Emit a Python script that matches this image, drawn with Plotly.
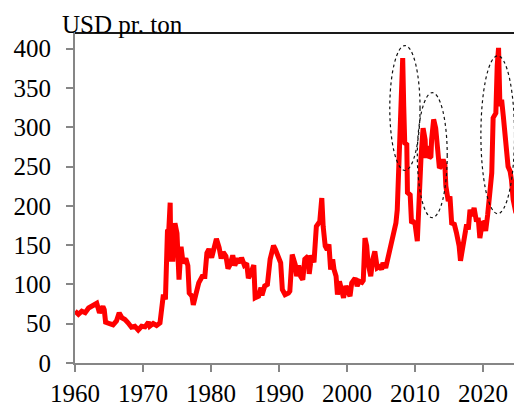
import plotly.graph_objects as go

years = [1960.0, 1960.5, 1961.0, 1961.5, 1962.0, 1962.4, 1962.8, 1963.2, 1963.6, 1964.1,
         1964.3, 1964.5, 1965.1, 1965.6, 1966.1, 1966.5, 1966.9, 1967.35, 1967.8, 1968.3,
         1968.8, 1969.3, 1969.8, 1970.3, 1970.8, 1971.0, 1971.5, 1972.0, 1972.5, 1972.8,
         1973.0, 1973.3, 1973.5, 1973.6, 1973.8, 1974.0, 1974.1, 1974.4, 1974.7, 1975.0,
         1975.3, 1975.6, 1975.9, 1976.3, 1976.6, 1976.8, 1977.2, 1977.4, 1977.75, 1978.2,
         1978.7, 1979.1, 1979.4, 1979.7, 1980.1, 1980.5, 1980.8, 1981.2, 1981.5, 1981.8,
         1982.2, 1982.5, 1982.8, 1983.2, 1983.5, 1983.9, 1984.3, 1984.5, 1984.9, 1985.25,
         1985.5, 1985.8, 1986.1, 1986.3, 1986.5, 1987.0, 1987.35, 1987.5, 1987.9, 1988.3,
         1988.7, 1989.2, 1989.5, 1989.9, 1990.25, 1990.5, 1990.9, 1991.4, 1991.6, 1991.95,
         1992.4, 1992.6, 1992.9, 1993.2, 1993.5, 1993.8, 1994.3, 1994.45, 1994.8, 1995.15,
         1995.5, 1996.0, 1996.3, 1996.5, 1996.8, 1997.1, 1997.35, 1997.6, 1997.9, 1998.1,
         1998.4, 1998.6, 1998.9, 1999.2, 1999.5, 1999.85, 2000.1, 2000.45, 2000.7, 2001.2,
         2001.5, 2001.8, 2002.2, 2002.4, 2002.65, 2002.9, 2003.1, 2003.5, 2003.8, 2004.1,
         2004.45, 2004.85, 2005.1, 2005.3, 2005.7, 2006.1, 2006.4, 2006.8, 2007.2, 2007.4,
         2007.55, 2007.7, 2007.85, 2008.0, 2008.2, 2008.35, 2008.5, 2008.8, 2008.9, 2009.3,
         2009.5, 2009.75, 2010.0, 2010.35, 2010.6, 2010.9, 2011.2, 2011.5, 2011.6, 2011.9,
         2012.1, 2012.35, 2012.45, 2012.75, 2013.05, 2013.35, 2013.6, 2013.9, 2014.15, 2014.4,
         2014.55, 2014.9, 2015.15, 2015.4, 2015.8, 2016.1, 2016.5, 2016.7, 2016.95, 2017.25,
         2017.6, 2017.85, 2018.1, 2018.4, 2018.7, 2019.05, 2019.3, 2019.55, 2019.9, 2020.2,
         2020.4, 2020.7, 2021.0, 2021.3, 2021.5, 2021.9, 2022.1, 2022.3, 2022.5, 2022.75,
         2023.0, 2023.35, 2023.7, 2024.0, 2024.2, 2024.45, 2024.7, 2024.85, 2024.95]

prices = [66, 62, 66, 64, 70, 72, 74, 76, 64, 72,
          68, 52, 50, 48.5, 53.5, 63.8, 57.5, 55.4, 51.2, 45.6,
          46.8, 42, 46.8, 46, 52, 47, 50.3, 47.8, 51, 72,
          87, 81, 119, 168, 170, 204, 132, 132, 178, 165,
          106, 148, 127, 133, 124, 89, 85, 74, 86.5, 102,
          110, 110, 140, 145, 134, 147, 158, 147, 133, 141,
          136, 120, 125, 137, 124, 133, 127.5, 134, 124.5, 127,
          108, 113, 122, 124.5, 83, 85, 96, 86, 98, 100,
          132, 149.5, 144, 136, 127.5, 93.5, 87, 89, 91.4, 138,
          125, 110.5, 124, 110, 106, 132, 136, 113.5, 137, 128,
          174, 180, 210, 174, 149, 144, 151, 119, 132, 119,
          110.5, 87, 104, 93.5, 83, 98, 91, 85, 102, 108,
          98, 104, 102.6, 105, 159, 149, 127.5, 110.5, 132, 142,
          121, 123, 119, 127.5, 121, 136, 149, 166, 178, 195,
          235, 280, 285, 373, 388, 327, 280, 278, 217, 214,
          178, 180, 178, 155, 225, 263, 299, 284, 261, 276,
          261, 263, 284, 310, 299, 267, 248, 251, 259, 252,
          225, 206, 212, 178, 176.5, 166, 149, 130, 144, 157,
          176.5, 170, 195, 187, 197.5, 180, 185, 159, 178, 179,
          168, 189, 225, 242, 312, 318, 378, 401, 327, 335,
          314, 280, 250, 244, 233, 208, 199, 191, 197]

x_ticks = [1960, 1970, 1980, 1990, 2000, 2010, 2020]
y_ticks = [0, 50, 100, 150, 200, 250, 300, 350, 400]

# highlighted episodes (ellipse bounds in data units)
ell_x0 = [2006.3, 2010.35, 2019.7]
ell_x1 = [2010.75, 2014.75, 2024.65]
ell_y0 = [245, 185, 190]
ell_y1 = [404, 344, 391]

FONT = "Liberation Serif"
AXIS_GREY = "#868686"

fig = go.Figure()
fig.add_trace(go.Scatter(x=years, y=prices, mode="lines",
                         line=dict(color="#ff0000", width=5), showlegend=False,
                         hoverinfo="x+y"))

shapes = []
for a, b, c, d in zip(ell_x0, ell_x1, ell_y0, ell_y1):
    shapes.append(dict(type="circle", xref="x", yref="y", x0=a, x1=b, y0=c, y1=d,
                       line=dict(color="#111111", width=1.2, dash="dot")))
shapes.append(dict(type="line", xref="paper", yref="paper", x0=0, x1=1, y0=1, y1=1,
                   line=dict(color="#1a1a1a", width=2)))

# page body has an 8px default margin; figure sized to fit the window
fig.update_layout(
    width=514, height=399,
    margin=dict(l=67, r=1, t=25, b=43.5),
    paper_bgcolor="white", plot_bgcolor="white",
    font=dict(family=FONT, size=25, color="black"),
    shapes=shapes,
    xaxis=dict(range=[1960, 2025.6], tickvals=x_ticks, showgrid=False, zeroline=False,
               showline=True, linecolor=AXIS_GREY, linewidth=2,
               ticks="outside", ticklen=7, tickwidth=1.5, tickcolor=AXIS_GREY,
               tickfont=dict(family=FONT, size=25, color="black")),
    yaxis=dict(range=[0, 420], tickvals=y_ticks, showgrid=False, zeroline=False,
               showline=True, linecolor=AXIS_GREY, linewidth=2,
               ticks="outside", ticklen=7, tickwidth=1.5, tickcolor=AXIS_GREY,
               ticklabelstandoff=10,
               tickfont=dict(family=FONT, size=25, color="black")),
    annotations=[dict(text="USD pr. ton", xref="paper", yref="paper",
                      x=-15/446, y=1, xanchor="left", yanchor="bottom",
                      yshift=-7, showarrow=False,
                      font=dict(family=FONT, size=25, color="black"))],
)

fig.write_html("out.html")
